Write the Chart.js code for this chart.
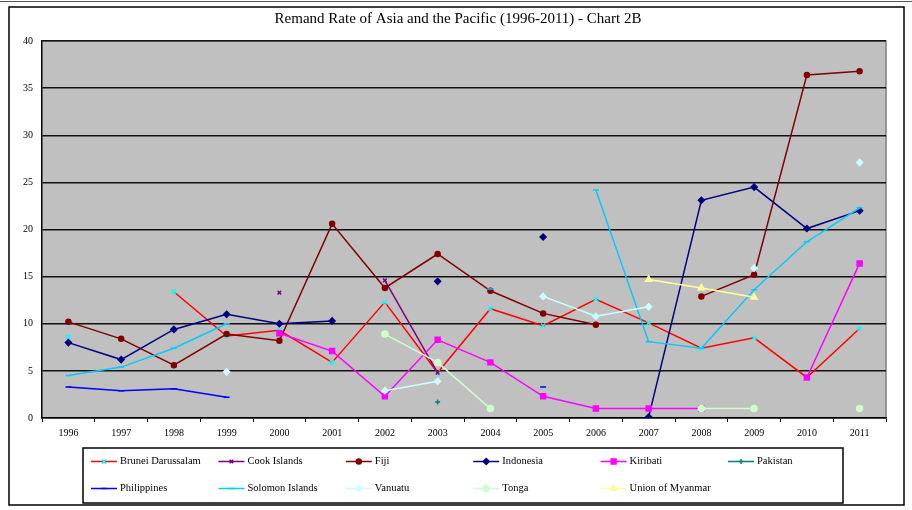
<!DOCTYPE html>
<html>
<head>
<meta charset="utf-8">
<title>Remand Rate of Asia and the Pacific</title>
<script src="https://cdn.jsdelivr.net/npm/chart.js@4.4.1/dist/chart.umd.min.js"></script>
<style>
  html, body { margin: 0; padding: 0; background: #fff; }
  #wrap { position: relative; width: 912px; height: 510px; }
</style>
</head>
<body>
<div id="wrap"><canvas id="myChart" width="912" height="510"></canvas></div>
<script>
const chartTitle = 'Remand Rate of Asia and the Pacific (1996-2011) - Chart 2B';
const years = ['1996', '1997', '1998', '1999', '2000', '2001', '2002', '2003',
               '2004', '2005', '2006', '2007', '2008', '2009', '2010', '2011'];
const yTicks = [0, 5, 10, 15, 20, 25, 30, 35, 40];

const brunei      = [8.6, null, 13.4, 8.7, 9.3, 5.9, 12.3, 4.8, 11.6, 9.8, 12.6, 10.1, 7.4, 8.5, 4.3, 9.5];
const cookIslands = [null, null, null, null, 13.3, null, 14.6, 4.8, null, null, null, null, null, null, null, null];
const fiji        = [10.2, 8.4, 5.6, 8.9, 8.2, 20.6, 13.8, 17.4, 13.5, 11.1, 9.9, null, 12.9, 15.2, 36.4, 36.8];
const indonesia   = [8.0, 6.2, 9.4, 11.0, 10.0, 10.3, null, 14.5, null, 19.2, null, 0.1, 23.1, 24.5, 20.1, 22.0];
const kiribati    = [null, null, null, null, 9.0, 7.1, 2.3, 8.3, 5.9, 2.3, 1.0, 1.0, 1.0, null, 4.3, 16.4];
const pakistan    = [null, null, null, null, null, null, null, 1.7, null, null, null, null, null, null, null, null];
const philippines = [3.3, 2.9, 3.1, 2.2, null, null, null, null, null, 3.3, null, null, null, null, null, null];
const solomon     = [4.5, 5.4, 7.4, 10.0, null, null, null, null, 13.7, null, 24.2, 8.1, 7.4, 13.6, 18.7, 22.3];
const vanuatu     = [null, null, null, 4.9, null, null, 2.9, 3.9, null, 12.9, 10.8, 11.8, null, 15.9, null, 27.1];
const tonga       = [null, null, null, null, null, null, 8.9, 5.9, 1.0, null, null, null, 1.0, 1.0, null, 1.0];
const myanmar     = [null, null, null, null, null, null, null, null, null, null, null, 14.7, 13.8, 12.8, null, null];

const serif = '"Liberation Serif", "Times New Roman", serif';
Chart.defaults.font.family = serif;
Chart.defaults.font.size = 10;
Chart.defaults.color = '#000';

function series(label, data, line, marker, style, radius) {
    return {
        label: label,
        data: data,
        borderColor: line,
        backgroundColor: marker,
        pointBackgroundColor: marker,
        pointBorderColor: marker,
        pointStyle: style,
        pointRadius: radius,
        pointHoverRadius: radius,
        pointBorderWidth: 1.5,
        borderWidth: 1.5,
        tension: 0,
        spanGaps: false,
    };
}

const datasets = [
    series('Brunei Darussalam', brunei, '#FF0000', '#00FFFF', 'crossRot', 3),
    series('Cook Islands', cookIslands, '#800080', '#800080', 'crossRot', 2.5),
    series('Fiji', fiji, '#800000', '#800000', 'circle', 2.5),
    series('Indonesia', indonesia, '#000080', '#000080', 'rectRot', 3),
    series('Kiribati', kiribati, '#FF00FF', '#FF00FF', 'rect', 3.5),
    series('Pakistan', pakistan, '#008080', '#008080', 'cross', 2.5),
    series('Philippines', philippines, '#0000FF', '#0000FF', 'line', 3),
    series('Solomon Islands', solomon, '#00CCFF', '#00CCFF', 'line', 3),
    series('Vanuatu', vanuatu, '#CCFFFF', '#CCFFFF', 'rectRot', 3),
    series('Tonga', tonga, '#CCFFCC', '#CCFFCC', 'circle', 3),
    series('Union of Myanmar', myanmar, '#FFFF99', '#FFFF99', 'triangle', 3.5),
];
// later series sit on top, like the original
datasets.forEach((ds, i) => { ds.order = datasets.length - i; });

const framePlugin = {
    id: 'frame',
    beforeDraw(chart) {
        const ctx = chart.ctx;
        const a = chart.chartArea;
        ctx.save();
        ctx.fillStyle = '#fff';
        ctx.fillRect(0, 0, chart.width, chart.height);
        ctx.strokeStyle = '#555';
        ctx.lineWidth = 1;
        ctx.beginPath();
        ctx.moveTo(0, 1.5);
        ctx.lineTo(chart.width, 1.5);
        ctx.stroke();
        ctx.strokeStyle = '#000';
        ctx.lineWidth = 1.5;
        ctx.strokeRect(9, 7, 895, 498);
        ctx.fillStyle = '#C0C0C0';
        ctx.fillRect(a.left, a.top, a.right - a.left, a.bottom - a.top);
        ctx.strokeStyle = '#808080';
        ctx.lineWidth = 1.5;
        ctx.beginPath();
        ctx.moveTo(a.left, a.top);
        ctx.lineTo(a.right, a.top);
        ctx.lineTo(a.right, a.bottom);
        ctx.stroke();
        ctx.fillStyle = '#000';
        ctx.font = '15px ' + serif;
        ctx.textAlign = 'center';
        ctx.textBaseline = 'middle';
        ctx.fillText(chartTitle, 458, 19);
        ctx.restore();
    },
    afterDraw(chart) {
        const ctx = chart.ctx;
        ctx.save();
        ctx.strokeStyle = '#000';
        ctx.lineWidth = 1.5;
        ctx.strokeRect(83, 448, 760, 55);
        ctx.font = '10.5px ' + serif;
        ctx.textBaseline = 'middle';
        ctx.textAlign = 'left';
        chart.data.datasets.forEach((ds, i) => {
            const x = 91 + (i % 6) * 127.4;
            const y = 461.5 + Math.floor(i / 6) * 27;
            ctx.strokeStyle = ds.borderColor;
            ctx.lineWidth = ds.borderWidth;
            ctx.beginPath();
            ctx.moveTo(x, y);
            ctx.lineTo(x + 26, y);
            ctx.stroke();
            ctx.fillStyle = ds.pointBackgroundColor;
            ctx.strokeStyle = ds.pointBorderColor;
            ctx.lineWidth = ds.pointBorderWidth;
            Chart.helpers.drawPoint(ctx, {
                pointStyle: ds.pointStyle,
                radius: ds.pointRadius,
                rotation: 0,
                borderWidth: ds.pointBorderWidth,
            }, x + 13, y);
            ctx.fillStyle = '#000';
            ctx.fillText(ds.label, x + 29, y);
        });
        ctx.restore();
    }
};

const ctx = document.getElementById('myChart').getContext('2d');

const chart = new Chart(ctx, {
    type: 'line',
    data: {
        labels: years,
        datasets: datasets,
    },
    plugins: [framePlugin],
    options: {
        responsive: false,
        animation: false,
        layout: {
            padding: { top: 41, right: 26, bottom: 62, left: 0 },
        },
        plugins: {
            legend: { display: false },
            title: { display: false },
            tooltip: { enabled: false },
        },
        scales: {
            x: {
                type: 'category',
                offset: true,
                afterFit: (scale) => { scale.height = 30; },
                grid: {
                    offset: true,
                    drawOnChartArea: false,
                    drawTicks: true,
                    tickLength: 4,
                    color: '#000',
                },
                border: { color: '#000', width: 1.5 },
                ticks: {
                    padding: 5,
                    maxRotation: 0,
                    autoSkip: false,
                    color: '#000',
                    font: { size: 10 },
                },
            },
            y: {
                min: 0,
                max: 40,
                afterFit: (scale) => { scale.width = 42; },
                afterBuildTicks: (scale) => {
                    scale.ticks = yTicks.map((v) => ({ value: v }));
                },
                grid: {
                    color: '#111',
                    lineWidth: 1.5,
                    drawTicks: false,
                },
                border: { color: '#000', width: 1.5 },
                ticks: {
                    padding: 9,
                    color: '#000',
                    font: { size: 10 },
                },
            },
        },
    },
});
</script>
</body>
</html>
